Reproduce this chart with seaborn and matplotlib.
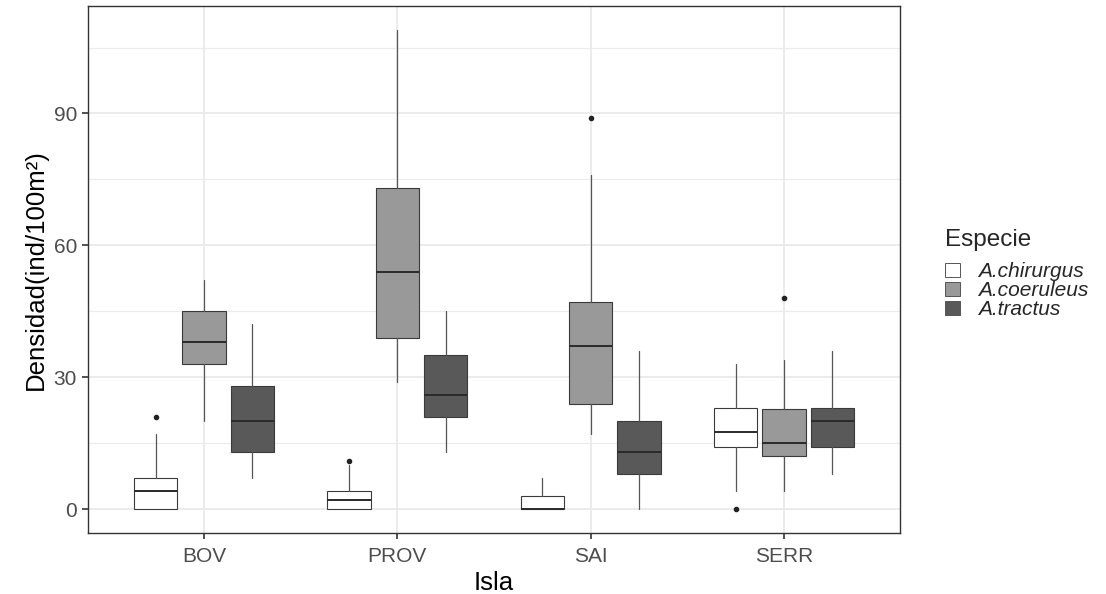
import numpy as np
import pandas as pd
import seaborn as sns
import matplotlib.pyplot as plt
from matplotlib.patches import Patch

# values (rows = especie, cols = isla)
islas = ["BOV", "PROV", "SAI", "SERR"]
especies = ["A.chirurgus", "A.coeruleus", "A.tractus"]
colores = ["#ffffff", "#999999", "#595959"]

whis_lo = [[0, 0, 0, 4], [20, 29, 17, 4], [7, 13, 0, 8]]
q1 = [[0, 0, 0, 14.2], [33, 39, 24, 12], [13, 21, 8, 14.2]]
med = [[4, 2, 0, 17.5], [38, 54, 37, 15], [20, 26, 13, 20]]
q3 = [[7, 4, 3, 23], [45, 73, 47, 22.8], [28, 35, 20, 23]]
whis_hi = [[17, 10, 7, 33], [52, 109, 76, 34], [42, 45, 36, 36]]
atipicos = [[[21], [11], [], [0]], [[], [], [89], [48]], [[], [], [], []]]

sns.set_theme(style="whitegrid")
plt.rcParams['font.family'] = ['Liberation Sans', 'DejaVu Sans']

fig = plt.figure(figsize=(11.06, 5.94), dpi=100)
ax = fig.add_axes([0.0796, 0.1027, 0.8137 - 0.0796, 0.9899 - 0.1027])

offsets = [-0.25, 0, 0.25]
for j, esp in enumerate(especies):
    stats = []
    for i, isla in enumerate(islas):
        stats.append(dict(whislo=whis_lo[j][i], q1=q1[j][i], med=med[j][i],
                          q3=q3[j][i], whishi=whis_hi[j][i], fliers=atipicos[j][i],
                          label=isla))
    pos = np.arange(len(islas)) + offsets[j]
    ax.bxp(stats, positions=pos, widths=0.225, patch_artist=True,
           showcaps=False, manage_ticks=False,
           boxprops=dict(facecolor=colores[j], edgecolor="#3a3a3a", linewidth=0.8),
           whiskerprops=dict(color="#555555", linewidth=0.9),
           medianprops=dict(color="#2a2a2a", linewidth=1.4),
           flierprops=dict(marker="o", markersize=3, markerfacecolor="#222222",
                           markeredgecolor="#222222", linestyle="none"))

ax.set_xlim(-0.6, 3.6)
ax.set_ylim(-5.45, 114.45)
ax.set_xticks(range(len(islas)))
ax.set_xticklabels(islas)
ax.set_yticks([0, 30, 60, 90])
ax.set_yticks([15, 45, 75, 105], minor=True)

ax.set_facecolor("white")
ax.grid(True, which="major", color="#ebebeb", linewidth=1.4)
ax.grid(True, which="minor", axis="y", color="#ebebeb", linewidth=0.8)
ax.set_axisbelow(True)
for s in ax.spines.values():
    s.set_visible(True)
    s.set_color("#333333")
    s.set_linewidth(1.0)

ax.tick_params(axis="x", which="major", pad=6)
ax.tick_params(axis="both", which="major", labelsize=15, labelcolor="#4d4d4d",
               length=4, width=1.2, color="#333333", bottom=True, left=True)
ax.tick_params(axis="y", which="major", pad=4)
ax.tick_params(axis="both", which="minor", length=0)

ax.set_xlabel("Isla", fontsize=18.5, color="black", labelpad=4)
ax.set_ylabel("Densidad(ind/100m²)", fontsize=18.5, color="black", labelpad=4)

handles = [Patch(facecolor=c, edgecolor="#555555", linewidth=0.7) for c in colores]
leg = fig.legend(handles, especies, loc="upper left", bbox_to_anchor=(0.845, 0.632),
                 frameon=False, title="Especie", title_fontsize=17.5,
                 prop=dict(size=15, style="italic"), handlelength=0.7,
                 handleheight=0.7, labelspacing=0.0, handletextpad=0.9,
                 borderpad=0, alignment="left")
leg._legend_box.sep = 8

fig.savefig("out.png", dpi=100)
